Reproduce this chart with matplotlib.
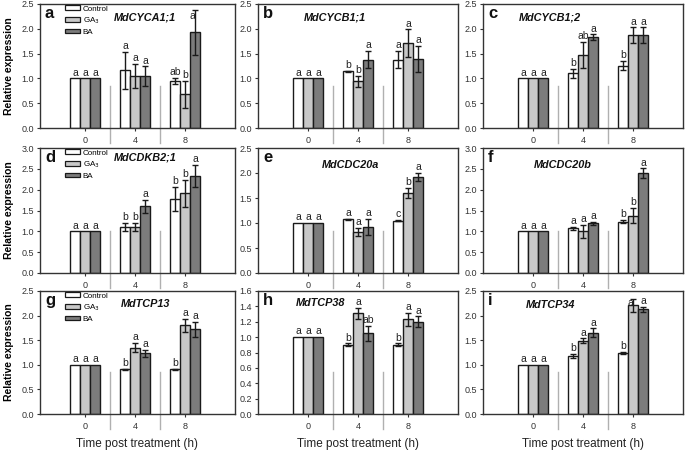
import numpy as np
import matplotlib
matplotlib.use("Agg")
import matplotlib.pyplot as plt
from matplotlib.patches import Patch

plt.rcParams['font.family'] = ['Liberation Sans', 'DejaVu Sans']

times = ['0', '4', '8']
treatments = ['Control', 'GA$_3$', 'BA']
panel_ids = ['a', 'b', 'c', 'd', 'e', 'f', 'g', 'h', 'i']
genes = ['MdCYCA1;1', 'MdCYCB1;1', 'MdCYCB1;2', 'MdCDKB2;1', 'MdCDC20a',
         'MdCDC20b', 'MdTCP13', 'MdTCP38', 'MdTCP34']
ymax = [2.5, 2.5, 2.5, 3.0, 2.5, 3.0, 2.5, 1.6, 2.5]
ystep = [0.5, 0.5, 0.5, 0.5, 0.5, 0.5, 0.5, 0.2, 0.5]

control = [[1, 1.16, 0.95], [1, 1.14, 1.38], [1, 1.10, 1.26],
           [1, 1.10, 1.78], [1, 1.08, 1.05], [1, 1.07, 1.23],
           [1, 0.91, 0.91], [1, 0.90, 0.90], [1, 1.18, 1.24]]
control_err = [[0, 0.38, 0.06], [0, 0.01, 0.17], [0, 0.09, 0.10],
               [0, 0.10, 0.28], [0, 0.01, 0.01], [0, 0.04, 0.04],
               [0, 0.01, 0.01], [0, 0.02, 0.02], [0, 0.04, 0.02]]
ga3 = [[1, 1.05, 0.68], [1, 0.94, 1.71], [1, 1.47, 1.87],
       [1, 1.10, 1.91], [1, 0.83, 1.60], [1, 1.00, 1.38],
       [1, 1.35, 1.80], [1, 1.31, 1.23], [1, 1.49, 2.21]]
ga3_err = [[0, 0.25, 0.27], [0, 0.11, 0.28], [0, 0.26, 0.16],
           [0, 0.10, 0.33], [0, 0.08, 0.10], [0, 0.16, 0.18],
           [0, 0.09, 0.13], [0, 0.07, 0.09], [0, 0.05, 0.13]]
ba = [[1, 1.04, 1.93], [1, 1.38, 1.39], [1, 1.83, 1.87],
      [1, 1.60, 2.33], [1, 0.93, 1.93], [1, 1.19, 2.39],
      [1, 1.23, 1.72], [1, 1.05, 1.20], [1, 1.65, 2.13]]
ba_err = [[0, 0.20, 0.45], [0, 0.17, 0.26], [0, 0.06, 0.16],
          [0, 0.16, 0.26], [0, 0.16, 0.08], [0, 0.03, 0.12],
          [0, 0.07, 0.15], [0, 0.10, 0.07], [0, 0.09, 0.05]]
control_sig = [['a', 'a', 'ab'], ['a', 'b', 'a'], ['a', 'b', 'b'],
               ['a', 'b', 'b'], ['a', 'a', 'c'], ['a', 'a', 'b'],
               ['a', 'b', 'b'], ['a', 'b', 'b'], ['a', 'b', 'b']]
ga3_sig = [['a', 'a', 'b'], ['a', 'b', 'a'], ['a', 'ab', 'a'],
           ['a', 'b', 'b'], ['a', 'a', 'b'], ['a', 'a', 'b'],
           ['a', 'a', 'a'], ['a', 'a', 'a'], ['a', 'a', 'a']]
ba_sig = [['a', 'a', 'a'], ['a', 'a', 'a'], ['a', 'a', 'a'],
          ['a', 'a', 'a'], ['a', 'a', 'a'], ['a', 'a', 'a'],
          ['a', 'a', 'a'], ['a', 'ab', 'a'], ['a', 'a', 'a']]

colors = ['#ffffff', '#c8c8c8', '#7c7c7c']
title_x = [0.54, 0.385, 0.335, 0.54, 0.46, 0.40, 0.54, 0.315, 0.335]
title_y = [0.895, 0.895, 0.895, 0.92, 0.86, 0.86, 0.895, 0.9, 0.89]

W, H = 685, 451
fig = plt.figure(figsize=(W / 100, H / 100), dpi=100)
col_l = [40, 258, 483]
col_r = [235, 458, 683]
row_t = [4, 148, 291]
row_b = [128, 273, 414]

x = np.arange(len(times))
bw = 0.2
for k in range(9):
    r, c = divmod(k, 3)
    ax = fig.add_axes([col_l[c] / W, 1 - row_b[r] / H,
                       (col_r[c] - col_l[c]) / W, (row_b[r] - row_t[r]) / H])
    series = [(control[k], control_err[k], control_sig[k]),
              (ga3[k], ga3_err[k], ga3_sig[k]),
              (ba[k], ba_err[k], ba_sig[k])]
    for j, (vals, errs, sigs) in enumerate(series):
        xs = x + (j - 1) * bw
        ax.bar(xs, vals, bw, color=colors[j], edgecolor='#1a1a1a',
               linewidth=1.0, label=treatments[j], zorder=2)
        e = np.array(errs)
        mask = e > 0
        ax.errorbar(xs[mask], np.array(vals)[mask], yerr=e[mask], fmt='none',
                    ecolor='#1a1a1a', elinewidth=1.0, capsize=2.5,
                    capthick=1.0, zorder=3)
        for xi, v, er, s in zip(xs, vals, errs, sigs):
            ytxt = v + er
            dx = 0
            if ytxt > ymax[k] * 0.9:
                ytxt = ymax[k] * 0.86
                dx = -0.05
            ax.annotate(s, (xi + dx, ytxt), xytext=(0, 0.5),
                        textcoords='offset points', ha='center', va='bottom',
                        fontsize=7.5, color='#222222', zorder=4)
    # separators between time groups
    for sx in [0.5, 1.5]:
        ax.plot([sx, sx], [-0.12, 0.34], color='#b0b0b0', lw=1.0,
                transform=ax.get_xaxis_transform(), clip_on=False, zorder=1)
    if c == 0:
        ax.set_xlim(-0.9, 3.0)
    else:
        ax.set_xlim(-1.0, 3.0)
    ax.set_ylim(0, ymax[k])
    ax.set_yticks(np.arange(0, ymax[k] + 1e-9, ystep[k]))
    ax.yaxis.set_major_formatter(matplotlib.ticker.FormatStrFormatter('%.1f'))
    ax.set_xticks(x)
    ax.set_xticklabels(times)
    ax.tick_params(axis='both', labelsize=6.5, length=2.5, width=0.8,
                   colors='#333333', pad=2)
    ax.tick_params(axis='x', pad=3)
    for sp in ax.spines.values():
        sp.set_color('#333333')
        sp.set_linewidth(1.0)
    ax.text(0.025, 0.985, panel_ids[k], transform=ax.transAxes, ha='left',
            va='top', fontsize=12, fontweight='bold', color='#111111')
    ax.text(title_x[k], title_y[k], genes[k], transform=ax.transAxes,
            ha='center', va='center', fontsize=7.8, fontweight='bold',
            style='italic', color='#111111')
    if c == 0:
        ax.set_ylabel('Relative expression', fontsize=7.5, fontweight='bold',
                      labelpad=5)
        leg_handles = [Patch(facecolor=colors[j], edgecolor='#1a1a1a',
                             linewidth=0.9) for j in range(3)]
        ax.legend(leg_handles, treatments, loc='upper left',
                  bbox_to_anchor=(0.11, 1.015), frameon=False, fontsize=5.8,
                  handlelength=1.9, handleheight=0.5, labelspacing=0.35,
                  handletextpad=0.35, borderaxespad=0.2, borderpad=0.2)
    if r == 2:
        ax.set_xlabel('Time post treatment (h)', fontsize=8.5, labelpad=5,
                      color='#222222')

fig.savefig('out.png', dpi=100)
